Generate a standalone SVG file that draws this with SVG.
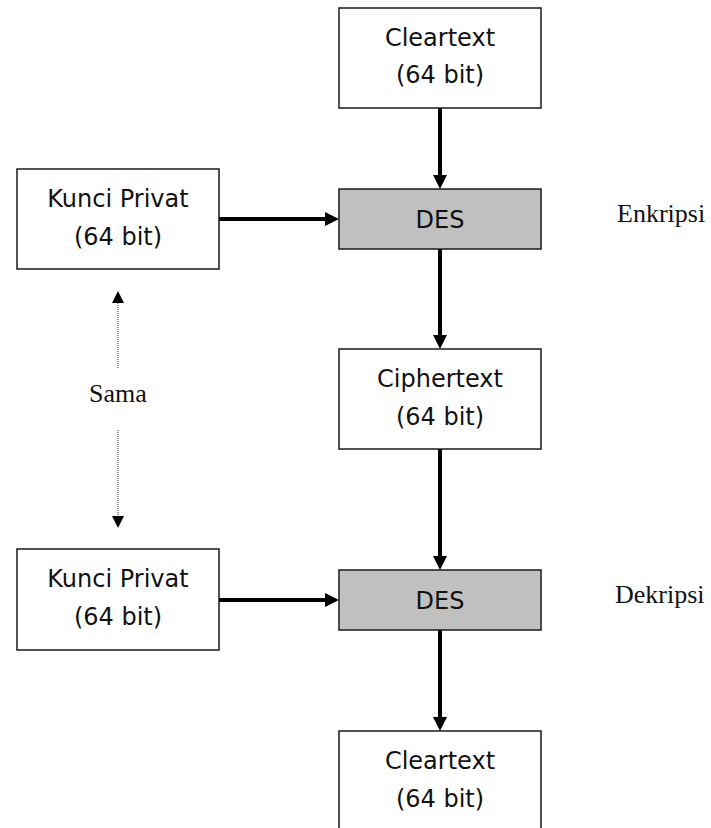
<svg xmlns="http://www.w3.org/2000/svg" width="711" height="828" viewBox="0 0 711 828">
<defs>
<style>
.box{fill:#fff;stroke:#1a1a1a;stroke-width:1.5}
.des{fill:#c0c0c0;stroke:#1a1a1a;stroke-width:1.5}
.t{font-family:"DejaVu Sans",sans-serif;font-size:24px;fill:#111;text-anchor:middle}
.s{font-family:"Liberation Serif",serif;font-size:26px;fill:#111}
.bold{stroke:#000;stroke-width:4;fill:none}
.dot{stroke:#555;stroke-width:1.2;stroke-dasharray:1 1;fill:none}
</style>
<marker id="ah" markerUnits="userSpaceOnUse" markerWidth="14" markerHeight="14" refX="1" refY="7" orient="auto">
<path d="M0,0 L14,7 L0,14 Z" fill="#000"/>
</marker>
<marker id="ahs" markerUnits="userSpaceOnUse" markerWidth="12" markerHeight="12" refX="1" refY="6" orient="auto">
<path d="M0,0 L12,6 L0,12 Z" fill="#000"/>
</marker>
</defs>
<g id="connectors">
<line class="bold" x1="440" y1="108" x2="440" y2="176" marker-end="url(#ah)"/>
<line class="bold" x1="219" y1="219" x2="326" y2="219" marker-end="url(#ah)"/>
<line class="bold" x1="440" y1="249" x2="440" y2="336" marker-end="url(#ah)"/>
<line class="bold" x1="440" y1="449" x2="440" y2="557" marker-end="url(#ah)"/>
<line class="bold" x1="219" y1="600" x2="326" y2="600" marker-end="url(#ah)"/>
<line class="bold" x1="440" y1="630" x2="440" y2="718" marker-end="url(#ah)"/>
<line class="dot" x1="118" y1="368" x2="118" y2="302" marker-end="url(#ahs)"/>
<line class="dot" x1="118" y1="430" x2="118" y2="517" marker-end="url(#ahs)"/>
</g>
<g id="cleartext1">
<rect class="box" x="339" y="8" width="202" height="100"/>
<text class="t" x="440" y="46">Cleartext</text>
<text class="t" x="440" y="83">(64 bit)</text>
</g>
<g id="kunci1">
<rect class="box" x="17" y="169" width="202" height="100"/>
<text class="t" x="118" y="207">Kunci Privat</text>
<text class="t" x="118" y="245">(64 bit)</text>
</g>
<g id="des1">
<rect class="des" x="339" y="189" width="202" height="60"/>
<text class="t" x="440" y="228">DES</text>
</g>
<g id="enkripsi">
<text class="s" x="617" y="222">Enkripsi</text>
</g>
<g id="sama">
<text class="s" x="118" y="402" text-anchor="middle">Sama</text>
</g>
<g id="ciphertext">
<rect class="box" x="339" y="349" width="202" height="100"/>
<text class="t" x="440" y="387">Ciphertext</text>
<text class="t" x="440" y="425">(64 bit)</text>
</g>
<g id="kunci2">
<rect class="box" x="17" y="549" width="202" height="101"/>
<text class="t" x="118" y="587">Kunci Privat</text>
<text class="t" x="118" y="625">(64 bit)</text>
</g>
<g id="des2">
<rect class="des" x="339" y="570" width="202" height="60"/>
<text class="t" x="440" y="609">DES</text>
</g>
<g id="dekripsi">
<text class="s" x="615" y="603">Dekripsi</text>
</g>
<g id="cleartext2">
<rect class="box" x="339" y="731" width="202" height="100"/>
<text class="t" x="440" y="769">Cleartext</text>
<text class="t" x="440" y="807">(64 bit)</text>
</g>
</svg>
